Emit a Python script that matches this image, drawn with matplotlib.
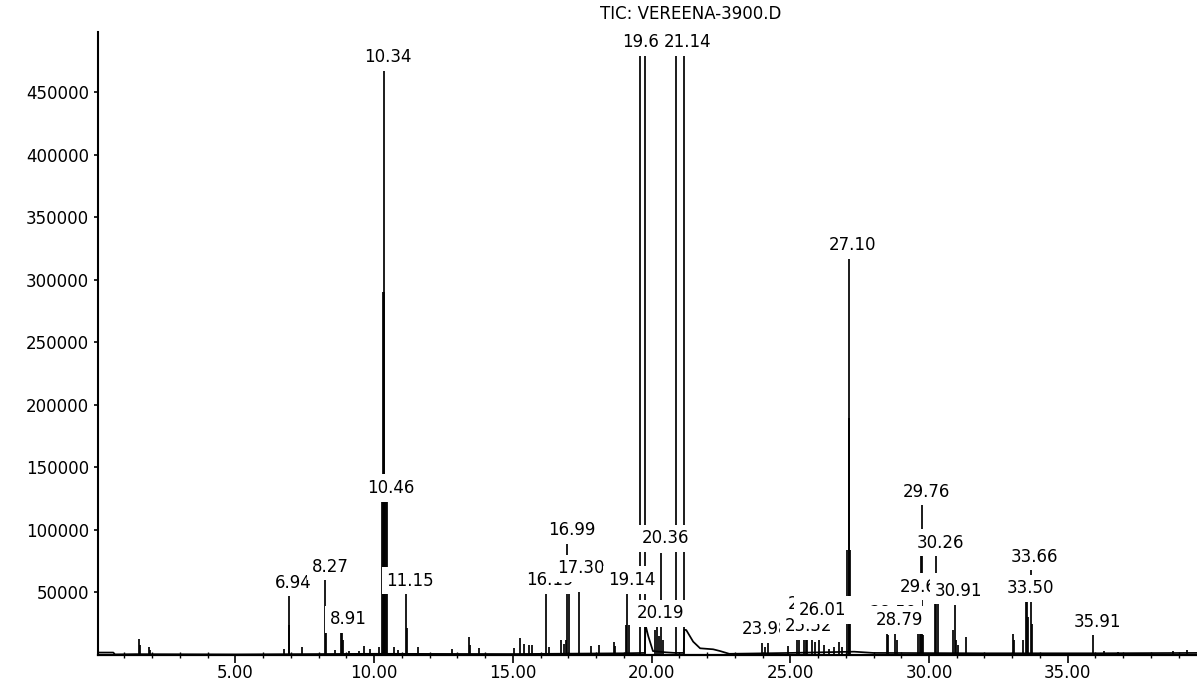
import matplotlib
matplotlib.use("Agg")
import matplotlib.pyplot as plt
from matplotlib.ticker import MultipleLocator, FixedLocator

# ---------------- data ----------------
title = "TIC: VEREENA-3900.D"

# peak sticks: retention time (min) and abundance
peak_rt = [1.52, 1.57, 1.88, 1.94, 6.74, 6.92, 6.95, 7.40, 8.24, 8.28,
           8.58, 8.80, 8.84, 8.89, 9.08, 9.45, 9.62, 9.86, 10.16,
           10.30, 10.32, 10.34, 10.37, 10.40, 10.44, 10.48, 10.73, 10.87,
           11.15, 11.18, 11.58, 12.81, 13.41, 13.45, 13.77,
           15.03, 15.27, 15.39, 15.57, 15.69, 16.18, 16.29, 16.75, 16.85,
           16.91, 16.97, 17.01, 17.39, 17.83, 18.09, 18.63, 18.69,
           19.08, 19.13, 19.20, 19.57, 19.77, 20.13, 20.19, 20.27, 20.35,
           20.42, 20.89, 21.18, 23.98, 24.10, 24.21, 24.93, 25.24, 25.32,
           25.48, 25.57, 25.62, 25.78, 25.90, 26.02, 26.22, 26.38, 26.56,
           26.77, 26.86, 27.03, 27.10, 27.12, 27.17, 28.48, 28.54, 28.78,
           28.84, 29.62, 29.68, 29.72, 29.76, 29.80, 30.20, 30.26, 30.31,
           30.85, 30.94, 30.98, 31.05, 31.34, 33.02, 33.07, 33.39, 33.50,
           33.53, 33.58, 33.66, 33.70, 35.92, 36.30, 36.80, 38.80, 39.30]
peak_abund = [12400, 8000, 6000, 4000, 4400, 49200, 23800, 6200, 60600, 17700,
              3800, 18500, 18500, 12000, 3000, 3300, 7000, 4400, 6000,
              124000, 290000, 474200, 290000, 124000, 124000, 124000, 6500, 4000,
              49600, 21600, 6000, 4400, 14500, 8000, 5200,
              5400, 13200, 8600, 7800, 7800, 48600, 6500, 12000, 9000,
              12000, 90500, 50000, 50500, 7000, 7800, 10500, 7000,
              24000, 52000, 24000, 485000, 485000, 20000, 23000, 15000, 81400,
              12000, 485000, 485000, 11800, 6000, 10500, 7000, 15000, 12000,
              15000, 15000, 12000, 14300, 10000, 13200, 8000, 5000, 6000,
              10500, 6000, 84000, 318500, 189000, 84000, 18500, 16000, 18500,
              12000, 17000, 17400, 95000, 121000, 16000, 41000, 80000, 41000,
              20000, 39800, 12000, 8000, 14200, 16600, 12000, 11800, 45400,
              45000, 30000, 67800, 25000, 17200, 3000, 2500, 3000, 3500]

# continuous baseline of the trace
base_rt = [0.03, 0.60, 0.66, 1.40, 5.00, 10.0, 15.0, 19.0, 19.76, 19.78,
           19.88, 20.05, 20.50, 20.85, 21.16, 21.18, 21.25, 21.50, 21.75,
           22.22, 22.47, 22.80, 23.50, 25.00, 27.30, 28.00, 32.00, 36.00, 39.66]
base_abund = [1800, 1800, 300, 500, 300, 800, 600, 1200, 1500, 24000,
              15000, 3000, 2000, 1500, 1500, 20000, 19800, 10500, 5200,
              4400, 3000, 800, 1000, 1500, 2500, 1500, 1200, 1200, 1500]

# peak labels (retention-time text) and the abundance level they sit at
label_text = ["6.94", "8.27", "8.91", "10.34", "10.46", "11.15", "16.19",
              "16.99", "17.30", "19.14", "19.66", "20.19", "20.36", "21.14",
              "23.98", "25.52", "25.63", "26.01", "27.10", "28.59", "28.79",
              "29.64", "29.76", "30.26", "30.91", "33.50", "33.66", "35.91"]
label_level = [57700, 70500, 28400, 478000, 133400, 59300, 59800,
               99800, 69200, 59800, 490000, 33200, 93200, 490000,
               20600, 23000, 41000, 35800, 327800, 33500, 27800,
               54500, 130500, 89700, 51300, 53200, 78500, 26500]

x_ticks = [5, 10, 15, 20, 25, 30, 35]
y_ticks = [50000, 100000, 150000, 200000, 250000, 300000, 350000, 400000, 450000]

# ---------------- figure ----------------
W, H = 1197, 684
fig = plt.figure(figsize=(W / 100, H / 100), dpi=100)
ax = fig.add_axes([97.5 / W, (H - 654.8) / H, (W - 97.5) / W, (654.8 - 32) / H])

ax.vlines(peak_rt, 0, peak_abund, colors="black", linewidth=1.25, zorder=3)
ax.plot(base_rt, base_abund, color="black", linewidth=1.25, zorder=3)

font = "DejaVu Sans"
for i, (txt, lev) in enumerate(zip(label_text, label_level)):
    ax.annotate(txt, xy=(float(txt), lev), xytext=(4, 0),
                textcoords="offset pixels", ha="center", va="center",
                fontsize=12, family=font, color="black",
                bbox=dict(boxstyle="square,pad=0.28", fc="white", ec="none"),
                zorder=10 + i, annotation_clip=False)

ax.set_xlim(0.03, 39.66)
ax.set_ylim(0, 498000)

for s in ("top", "right"):
    ax.spines[s].set_visible(False)
ax.spines["left"].set_linewidth(1.5)
ax.spines["bottom"].set_linewidth(1.6)

ax.xaxis.set_major_locator(FixedLocator(x_ticks))
ax.set_xticklabels([f"{v:.2f}" for v in x_ticks], family=font, fontsize=12)
ax.xaxis.set_minor_locator(MultipleLocator(1))
ax.yaxis.set_major_locator(FixedLocator(y_ticks))
ax.set_yticklabels([str(v) for v in y_ticks], family=font, fontsize=12)

ax.tick_params(axis="x", which="major", direction="out", length=5.5, width=1.2, pad=1)
ax.tick_params(axis="x", which="minor", direction="inout", length=5, width=1.0)
ax.tick_params(axis="y", which="major", direction="out", length=3, width=1.2, pad=3)

fig.text(691 / W, 1 - 14 / H, title, ha="center", va="center",
         fontsize=12, family=font)

fig.savefig("out.png", dpi=100, facecolor="white")
